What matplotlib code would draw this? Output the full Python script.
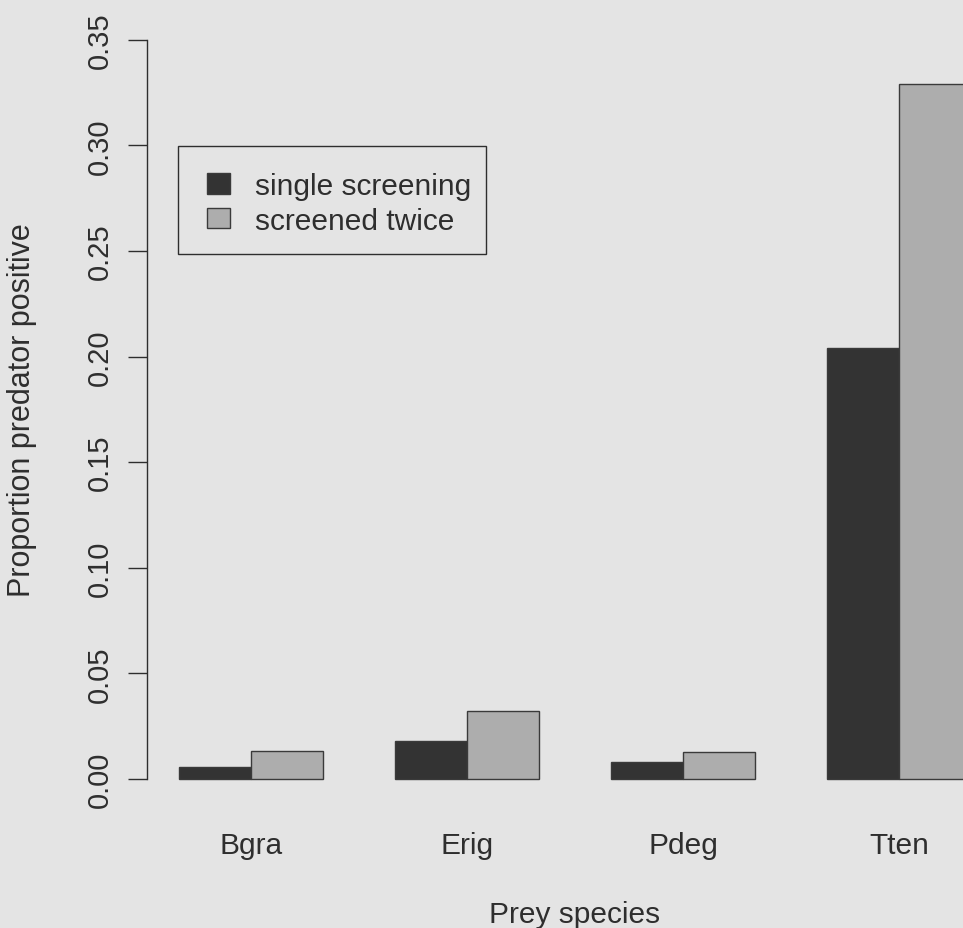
import matplotlib
matplotlib.use("Agg")
import matplotlib.pyplot as plt
from matplotlib.patches import Rectangle

plt.rcParams['font.family'] = ['Liberation Sans', 'DejaVu Sans']

species = ["Bgra", "Erig", "Pdeg", "Tten"]
single_screening = [0.0057, 0.0182, 0.0080, 0.204]
screened_twice = [0.0134, 0.0322, 0.0130, 0.329]
series_labels = ["single screening", "screened twice"]
yticks = [0.00, 0.05, 0.10, 0.15, 0.20, 0.25, 0.30, 0.35]

bg = "#e4e4e4"
dark = "#333333"
light = "#adadad"
edge = "#3a3a3a"
txt = "#2e2e2e"

W, H = 963, 929
fig = plt.figure(figsize=(W / 100, H / 100), dpi=100, facecolor=bg)

# plot region in pixels (R barplot, beside=TRUE layout)
x0, x1 = 147.3, 1002.7
ytop, ybot = 11.2, 809.6
ax = fig.add_axes([x0 / W, 1 - ybot / H, (x1 - x0) / W, (ybot - ytop) / H])
ax.set_facecolor(bg)

n = len(species)
left_dark = [1 + 3 * i for i in range(n)]
left_light = [2 + 3 * i for i in range(n)]
centers = [2 + 3 * i for i in range(n)]

ax.bar(left_dark, single_screening, width=1, align='edge', color=dark,
       edgecolor=edge, linewidth=1.0, label=series_labels[0])
ax.bar(left_light, screened_twice, width=1, align='edge', color=light,
       edgecolor=edge, linewidth=1.0, label=series_labels[1])

ax.set_xlim(0.56, 12.44)
ax.set_ylim(-0.014, 0.364)

for s in ["top", "right", "bottom"]:
    ax.spines[s].set_visible(False)
ax.spines["left"].set_bounds(0, 0.35)
ax.spines["left"].set_color(txt)
ax.spines["left"].set_linewidth(1.0)

ax.set_yticks(yticks)
ax.set_yticklabels([f"{v:.2f}" for v in yticks], rotation=90, va="center",
                   fontsize=21, color=txt)
ax.tick_params(axis="y", length=13.5, width=1.0, color=txt, pad=10.5)

ax.set_xticks(centers)
ax.set_xticklabels(species, fontsize=21.5, color=txt)
ax.tick_params(axis="x", length=0, pad=16)

fig.text(22 / W, 1 - 410 / H, "Proportion predator positive", rotation=90,
         ha="center", va="center", fontsize=22, color=txt)
fig.text(575 / W, 1 - 923 / H, "Prey species", ha="center", va="baseline",
         fontsize=21.5, color=txt)

# legend box (R-style, drawn in figure pixels)
ax.add_patch(Rectangle((178 / W, 1 - 255 / H), (486 - 178) / W,
                       (255 - 147) / H, transform=fig.transFigure,
                       facecolor=bg, edgecolor=txt, linewidth=1.0,
                       zorder=4, clip_on=False))
leg = ax.legend(loc="upper left", bbox_to_anchor=(207 / W, 1 - 173 / H),
                bbox_transform=fig.transFigure, fontsize=21.5, frameon=False,
                handlelength=0.77, handleheight=0.67, handletextpad=0.84,
                borderpad=0, labelspacing=0.22, borderaxespad=0)
leg.set_zorder(6)
for t in leg.get_texts():
    t.set_color(txt)

fig.savefig("out.png", dpi=100, facecolor=bg)
